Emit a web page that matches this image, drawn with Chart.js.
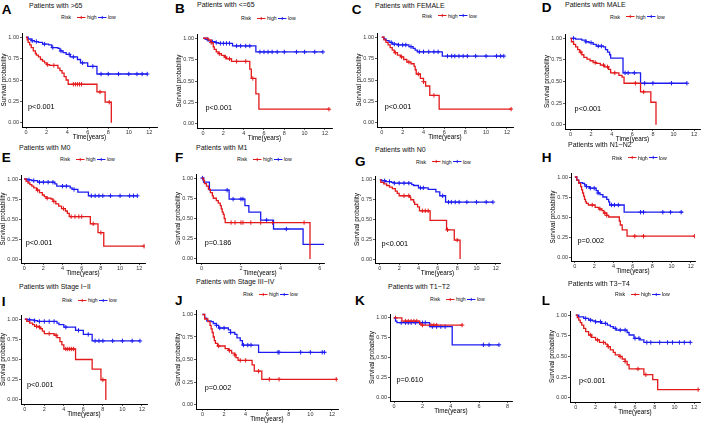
<!DOCTYPE html>
<html><head><meta charset="utf-8">
<script src="https://cdn.jsdelivr.net/npm/chart.js@4.4.1/dist/chart.umd.min.js"></script>
<style>
html,body{margin:0;padding:0;background:#fff;}
#fig{position:relative;width:708px;height:424px;overflow:hidden;font-family:"Liberation Sans",Arial,sans-serif;background:#fff;}
.lt{position:absolute;font-weight:bold;font-size:13.5px;line-height:13.5px;color:#000;}
.tt{position:absolute;font-size:7px;line-height:7px;color:#111;white-space:nowrap;}
.lg{position:absolute;display:flex;align-items:center;font-size:5.2px;line-height:6px;height:6px;color:#111;white-space:nowrap;}
canvas{position:absolute;}
</style></head><body><div id="fig"></div>
<script>
// ---------- data (time in years, survival probability, censor times) ----------
const A_high_t = [0,0.1,0.2,0.35,0.5,0.7,0.9,1.0,1.2,1.4,1.6,1.8,2.0,2.3,3.1,3.3,3.5,3.7,3.9,4.1,6.9,7.7,8.3];
const A_high_s = [1,0.97,0.94,0.91,0.88,0.84,0.81,0.79,0.77,0.74,0.72,0.70,0.68,0.67,0.64,0.61,0.58,0.54,0.50,0.45,0.36,0.24,0];
const A_high_c = [2.1,2.7,4.6,4.8,5.0,5.2,5.4,7.2,8.1];
const A_low_t = [0,0.2,0.5,0.8,1.2,1.6,2.2,2.5,3.1,3.3,3.6,3.9,4.3,5.0,5.3,6.0,6.9,11.8];
const A_low_s = [1,0.98,0.96,0.95,0.94,0.92,0.91,0.88,0.87,0.84,0.82,0.80,0.77,0.74,0.70,0.66,0.57,0.57];
const A_low_c = [0.6,1.0,1.8,2.6,3.4,4.2,4.6,5.5,6.5,7.3,8.0,9.0,10.0,10.8,11.3,11.8];

const B_high_t = [0,0.5,0.8,1.0,1.1,1.3,1.5,1.8,2.1,2.3,2.8,4.6,4.75,5.2,5.5,12.4];
const B_high_s = [1,0.98,0.95,0.90,0.87,0.84,0.82,0.80,0.78,0.76,0.73,0.64,0.53,0.35,0.17,0.17];
const B_high_c = [0.8,1.6,2.2,2.6,3.3,4.2,4.9,12.4];
const B_low_t = [0,0.2,0.5,0.9,1.2,1.5,2.9,5.2,11.8];
const B_low_s = [1,0.99,0.97,0.96,0.95,0.94,0.91,0.84,0.84];
const B_low_c = [0.4,0.9,1.3,1.7,2.0,2.3,2.6,3.3,3.7,4.2,4.6,5.6,6.0,6.4,6.8,7.3,8.0,9.2,10.0,11.0,11.8];

const C_high_t = [0,0.2,0.4,0.6,0.8,1.0,1.2,1.5,1.8,2.1,2.4,2.8,3.1,3.2,3.3,3.7,4.0,4.2,4.6,5.5,12.4];
const C_high_s = [1,0.97,0.94,0.91,0.88,0.85,0.82,0.79,0.77,0.74,0.71,0.69,0.66,0.62,0.57,0.52,0.48,0.43,0.32,0.16,0.16];
const C_high_c = [1.3,1.9,2.6,3.5,4.0,5.0,12.4];
const C_low_t = [0,0.2,0.4,0.7,1.0,1.5,2.6,3.0,3.2,3.4,5.8,11.7];
const C_low_s = [1,0.98,0.96,0.94,0.92,0.91,0.89,0.87,0.85,0.83,0.78,0.78];
const C_low_c = [0.9,1.2,1.6,2.0,2.3,2.8,3.6,4.0,4.5,5.0,5.4,6.3,6.7,7.0,7.4,7.8,8.2,9.0,10.0,11.0,11.4,11.7];

const D_high_t = [0,0.1,0.3,0.5,0.7,0.9,1.1,1.3,1.6,1.9,2.2,2.5,2.9,3.3,3.7,3.9,4.7,5.0,5.2,6.8,7.8,8.3];
const D_high_s = [1,0.96,0.93,0.90,0.87,0.84,0.81,0.78,0.76,0.74,0.72,0.71,0.69,0.67,0.64,0.60,0.57,0.55,0.48,0.38,0.26,0];
const D_high_c = [1.0,2.4,3.2,3.6,4.3,6.3,7.1];
const D_low_t = [0,0.5,1.1,1.5,1.8,2.2,2.5,3.2,3.4,3.6,3.8,3.9,5.1,6.8,11.3];
const D_low_s = [1,0.99,0.98,0.96,0.95,0.93,0.91,0.90,0.87,0.84,0.81,0.77,0.60,0.48,0.48];
const D_low_c = [0.3,1.5,2.0,2.7,3.0,5.3,5.6,6.2,7.2,8.0,9.8,11.3];

const E_high_t = [0,0.2,0.4,0.6,0.8,1.0,1.3,1.6,1.9,2.1,2.3,2.8,3.0,3.3,3.6,3.9,4.3,4.5,4.7,6.9,7.7,8.3,12.5];
const E_high_s = [1,0.97,0.95,0.93,0.91,0.89,0.86,0.83,0.80,0.78,0.76,0.75,0.72,0.69,0.66,0.63,0.60,0.57,0.53,0.44,0.33,0.16,0.16];
const E_high_c = [1.4,2.4,3.1,4.1,4.9,5.3,5.7,6.0,7.2,8.0,12.5];
const E_low_t = [0,0.3,0.8,1.4,3.2,3.4,4.8,5.0,5.6,6.7,11.8];
const E_low_s = [1,0.99,0.98,0.96,0.94,0.91,0.89,0.87,0.835,0.79,0.79];
const E_low_c = [0.5,1.0,1.6,2.0,2.5,3.0,4.0,4.4,5.2,7.0,7.4,7.8,8.2,9.0,10.0,11.0,11.4,11.8];

const F_high_t = [0,0.1,0.15,0.25,0.35,0.45,0.55,0.6,0.75,0.85,0.95,1.0,1.05,1.1,1.15,1.2,5.5];
const F_high_s = [1,0.97,0.93,0.90,0.86,0.82,0.78,0.75,0.72,0.69,0.66,0.62,0.58,0.55,0.50,0.45,0];
const F_high_c = [1.5,1.7,2.0,2.1,2.5,3.0,3.6,5.2];
const F_low_t = [0,0.1,0.4,1.4,2.2,2.4,3.0,3.65,5.15,6.3];
const F_low_s = [1,0.95,0.85,0.74,0.66,0.58,0.48,0.37,0.18,0.18];
const F_low_c = [0.05,1.3,1.6,2.0,2.1,3.3,4.3];

const G_high_t = [0,0.1,0.4,0.7,1.0,1.3,1.6,1.8,2.0,3.1,3.2,3.5,3.6,3.9,4.1,5.2,6.9,7.7,8.3];
const G_high_s = [1,0.97,0.95,0.93,0.91,0.89,0.86,0.83,0.80,0.78,0.75,0.72,0.69,0.66,0.61,0.49,0.37,0.24,0];
const G_high_c = [2.5,3.0,4.4,4.7,5.0,7.0,8.0];
const G_low_t = [0,0.2,0.6,1.2,1.5,3.3,3.5,4.0,5.0,5.8,6.2,6.8,11.7];
const G_low_s = [1,0.99,0.98,0.97,0.96,0.94,0.93,0.90,0.88,0.85,0.80,0.72,0.72];
const G_low_c = [0.5,1.0,1.5,2.0,2.5,3.0,4.2,4.5,6.5,7.1,7.4,7.8,8.2,9.0,10.0,11.0,11.7];

const H_high_t = [0,0.2,0.4,0.6,0.7,0.8,0.9,1.0,1.1,1.2,1.4,2.1,2.5,2.8,3.0,3.3,3.5,4.6,4.7,4.9,5.4,12.4];
const H_high_s = [1,0.96,0.92,0.88,0.84,0.80,0.76,0.72,0.69,0.67,0.65,0.62,0.60,0.58,0.55,0.52,0.50,0.45,0.40,0.34,0.26,0.26];
const H_high_c = [1.8,2.6,3.1,3.3,6.2,7.1,12.4];
const H_low_t = [0,0.2,0.4,0.8,1.0,1.2,1.5,2.2,2.4,2.6,2.9,3.3,3.5,3.6,5.1,11.2];
const H_low_s = [1,0.96,0.93,0.92,0.90,0.88,0.86,0.83,0.80,0.78,0.75,0.72,0.69,0.65,0.56,0.56];
const H_low_c = [1.2,1.6,2.0,2.4,3.8,4.1,4.5,6.8,7.1,9.1,9.9,11.0];

const I_high_t = [0,0.2,0.5,0.8,1.0,1.4,1.6,1.8,2.0,3.0,3.3,3.6,3.8,4.0,5.2,6.9,7.8,8.3];
const I_high_s = [1,0.97,0.95,0.93,0.91,0.90,0.88,0.85,0.82,0.80,0.77,0.72,0.68,0.63,0.50,0.38,0.25,0];
const I_high_c = [1.2,1.5,2.5,3.2,4.2,4.4,4.6,4.8,5.0,8.0];
const I_low_t = [0,0.3,1.0,1.3,3.3,3.5,4.0,5.2,6.0,6.9,11.8];
const I_low_s = [1,0.99,0.98,0.97,0.95,0.93,0.90,0.86,0.81,0.73,0.73];
const I_low_c = [0.5,1.0,1.5,2.0,2.5,3.0,4.2,5.5,6.5,7.2,7.6,8.0,9.0,10.0,11.0,11.8];

const J_high_t = [0,0.2,0.5,0.7,0.8,0.9,1.0,1.1,1.2,1.4,2.1,2.4,2.7,3.0,3.1,3.3,4.6,4.8,5.5,12.4];
const J_high_s = [1,0.95,0.92,0.88,0.84,0.80,0.75,0.71,0.68,0.65,0.62,0.60,0.57,0.55,0.52,0.49,0.44,0.37,0.28,0.28];
const J_high_c = [1.5,2.5,3.0,3.5,4.0,5.2,6.2,7.1,12.4];
const J_low_t = [0,0.2,0.4,0.8,1.0,1.3,1.5,2.4,2.6,3.0,3.2,3.5,3.7,5.2,11.4];
const J_low_s = [1,0.96,0.93,0.92,0.90,0.88,0.85,0.83,0.80,0.78,0.74,0.71,0.66,0.58,0.58];
const J_low_c = [1.3,1.6,2.0,2.6,3.8,4.2,4.5,7.0,7.1,9.1,10.0,11.1,11.3];

const K_high_t = [0,0.55,1.8,1.9,4.8];
const K_high_s = [1,0.96,0.93,0.91,0.91];
const K_high_c = [0.1,0.8,1.0,1.2,1.4,1.6,2.0,2.6,2.8,3.0,4.8];
const K_low_t = [0,0.1,0.2,2.5,4.1,7.4];
const K_low_s = [1,0.96,0.94,0.89,0.66,0.66];
const K_low_c = [0.5,0.8,1.0,1.2,1.5,1.8,2.0,2.2,2.7,3.0,3.3,3.6,6.3,6.7,7.4];

const L_high_t = [0,0.15,0.3,0.45,0.6,0.8,1.0,1.3,1.6,2.0,2.4,3.0,3.2,3.5,3.8,4.0,4.4,4.7,5.0,5.2,5.4,6.9,7.8,8.3,12.4];
const L_high_s = [1,0.97,0.94,0.91,0.88,0.84,0.80,0.76,0.73,0.70,0.67,0.65,0.62,0.58,0.55,0.52,0.50,0.47,0.44,0.40,0.35,0.28,0.22,0.10,0.10];
const L_high_c = [1.5,2.2,2.8,3.3,4.5,5.0,6.3,7.1,12.4];
const L_low_t = [0,0.3,0.8,1.3,1.7,2.0,2.6,3.2,3.5,3.8,4.1,5.2,5.4,5.9,6.5,6.9,11.7];
const L_low_s = [1,0.98,0.96,0.94,0.93,0.92,0.90,0.88,0.86,0.84,0.82,0.79,0.76,0.72,0.70,0.67,0.67];
const L_low_c = [1.0,1.5,2.0,2.5,3.0,4.0,4.5,5.0,6.0,6.4,7.2,7.6,8.5,9.3,9.8,10.5,11.0,11.6];

const X_TICKS_12 = [0,2,4,6,8,10,12];
const X_TICKS_6 = [0,2,4,6];
const X_TICKS_8 = [0,2,4,6,8];
const Y_TICKS = [0,0.25,0.5,0.75,1];
const TITLES = {A:'Patients with >65',B:'Patients with <=65',C:'Patients with FEMALE',D:'Patients with MALE',
  E:'Patients with M0',F:'Patients with M1',G:'Patients with N0',H:'Patients with N1~N2',
  I:'Patients with Stage I~II',J:'Patients with Stage III~IV',K:'Patients with T1~T2',L:'Patients with T3~T4'};
const PVALUES = {A:'p<0.001',B:'p<0.001',C:'p<0.001',D:'p<0.001',E:'p<0.001',F:'p=0.186',
  G:'p<0.001',H:'p=0.002',I:'p<0.001',J:'p=0.002',K:'p=0.610',L:'p<0.001'};

const SERIES = {
  A:[A_high_t,A_high_s,A_high_c,A_low_t,A_low_s,A_low_c],
  B:[B_high_t,B_high_s,B_high_c,B_low_t,B_low_s,B_low_c],
  C:[C_high_t,C_high_s,C_high_c,C_low_t,C_low_s,C_low_c],
  D:[D_high_t,D_high_s,D_high_c,D_low_t,D_low_s,D_low_c],
  E:[E_high_t,E_high_s,E_high_c,E_low_t,E_low_s,E_low_c],
  F:[F_high_t,F_high_s,F_high_c,F_low_t,F_low_s,F_low_c],
  G:[G_high_t,G_high_s,G_high_c,G_low_t,G_low_s,G_low_c],
  H:[H_high_t,H_high_s,H_high_c,H_low_t,H_low_s,H_low_c],
  I:[I_high_t,I_high_s,I_high_c,I_low_t,I_low_s,I_low_c],
  J:[J_high_t,J_high_s,J_high_c,J_low_t,J_low_s,J_low_c],
  K:[K_high_t,K_high_s,K_high_c,K_low_t,K_low_s,K_low_c],
  L:[L_high_t,L_high_s,L_high_c,L_low_t,L_low_s,L_low_c]
};

// ---------- layout (pixels) ----------
const LAYOUT = {
  A:{L:22,R:162,T:28,B:127,xmin:-0.40,xmax:12.75,xt:X_TICKS_12,px:0.19,py:0.18,let:[1.7,2.6],tit:[29,1.5],leg:[61,17.3]},
  B:{L:197,R:337,T:29,B:128,xmin:-0.60,xmax:12.70,xt:X_TICKS_12,px:0.23,py:0.18,let:[175,1.9],tit:[197,1.3],leg:[241,18.3]},
  C:{L:377,R:518,T:28,B:127,xmin:-0.46,xmax:12.58,xt:X_TICKS_12,px:0.28,py:0.185,let:[351.7,2.6],tit:[375,2.3],leg:[422,15.7]},
  D:{L:565,R:705,T:29,B:129,xmin:-0.53,xmax:12.57,xt:X_TICKS_12,px:0.40,py:0.18,let:[541.7,1.3],tit:[565,1.3],leg:[610,16.7]},
  E:{L:21,R:150,T:170,B:263,xmin:-0.33,xmax:12.6,xt:X_TICKS_12,px:0.17,py:0.196,let:[1.7,151.3],tit:[19,144],leg:[60,159.3]},
  F:{L:196,R:329,T:169,B:263,xmin:-0.28,xmax:6.21,xt:X_TICKS_6,px:0.16,py:0.195,let:[175,151.3],tit:[196,144],leg:[237,159]},
  G:{L:375,R:505,T:171,B:263,xmin:-0.50,xmax:12.43,xt:X_TICKS_12,px:0.17,py:0.194,let:[355,154.6],tit:[375,146.3],leg:[416,161.7]},
  H:{L:571,R:700,T:168,B:261,xmin:-0.40,xmax:12.43,xt:X_TICKS_12,px:0.27,py:0.198,let:[541.7,151.3],tit:[568,141.3],leg:[612,157.7]},
  I:{L:21,R:152,T:310,B:404,xmin:-0.39,xmax:12.52,xt:X_TICKS_12,px:0.23,py:0.19,let:[1.7,294.6],tit:[19,283.3],leg:[62,300]},
  J:{L:196,R:343,T:305,B:409,xmin:-0.60,xmax:12.56,xt:X_TICKS_12,px:0.20,py:0.184,let:[175,293.6],tit:[196,277.5],leg:[243,294]},
  K:{L:390,R:517,T:309,B:401,xmin:-0.29,xmax:8.32,xt:X_TICKS_8,px:0.16,py:0.21,let:[355,293.6],tit:[388,283.3],leg:[430,299]},
  L:{L:570,R:705,T:306,B:402,xmin:-0.59,xmax:12.59,xt:X_TICKS_12,px:0.32,py:0.206,let:[541.7,293.6],tit:[568,280],leg:[615,294.3]}
};

const RED = '#e31a1c', BLUE = '#1c1cf0';
const FONT = '"Liberation Sans", Arial, sans-serif';
const XH = 14, YW = 22;
Chart.defaults.font.family = FONT;

function pts(t, s){ return t.map((v,i)=>({x:v, y:s[i]})); }
function survAt(t, s, x){ let v = s[0]; for (let i=0;i<t.length;i++){ if (t[i] <= x) v = s[i]; } return v; }
function cens(t, s, c){ return c.map(v=>({x:v, y:survAt(t,s,v)})); }

const pvalPlugin = {
  id:'pval',
  afterDatasetsDraw(chart, args, o){
    const {ctx, scales:{x, y}} = chart;
    ctx.save();
    ctx.font = '7.3px ' + FONT;
    ctx.fillStyle = '#000';
    ctx.textAlign = 'left';
    ctx.textBaseline = 'middle';
    ctx.fillText(o.text, x.getPixelForValue(o.x), y.getPixelForValue(o.y));
    ctx.restore();
  }
};

const fig = document.getElementById('fig');
function keySvg(color){
  return '<svg width="8.5" height="5" style="display:block"><line x1="0" y1="2.5" x2="8.5" y2="2.5" stroke="'+color+'" stroke-width="1"/>'+
    '<path d="M4.25 0.9V4.1M2.65 2.5H5.85" stroke="'+color+'" stroke-width="0.9"/></svg>';
}

Object.keys(LAYOUT).forEach(k=>{
  const p = LAYOUT[k];
  const [ht, hs, hc, lt, ls, lc] = SERIES[k];
  const le = document.createElement('div'); le.className='lt'; le.textContent=k;
  le.style.left=p.let[0]+'px'; le.style.top=p.let[1]+'px'; fig.appendChild(le);
  const te = document.createElement('div'); te.className='tt'; te.textContent=TITLES[k];
  te.style.left=p.tit[0]+'px'; te.style.top=p.tit[1]+'px'; fig.appendChild(te);
  const lg = document.createElement('div'); lg.className='lg';
  lg.style.left=p.leg[0]+'px'; lg.style.top=(p.leg[1]-3)+'px';
  lg.innerHTML = '<span>Risk</span><span style="width:6px"></span>'+keySvg(RED)+'<span style="width:1.3px"></span><span>high</span><span style="width:1.7px"></span>'+keySvg(BLUE)+'<span style="width:1px"></span><span>low</span>';
  fig.appendChild(lg);
  const cv = document.createElement('canvas');
  const left = p.L - YW, top = p.T, w = p.R - p.L + YW, h = p.B - p.T + XH;
  cv.width = w; cv.height = h;
  cv.style.left = left+'px'; cv.style.top = top+'px'; cv.style.width = w+'px'; cv.style.height = h+'px';
  fig.appendChild(cv);
  new Chart(cv, {
    type:'line',
    data:{datasets:[
      {label:'high', data:pts(ht,hs), borderColor:RED, borderWidth:1.3, stepped:true, pointRadius:0, fill:false},
      {label:'low', data:pts(lt,ls), borderColor:BLUE, borderWidth:1.3, stepped:true, pointRadius:0, fill:false},
      {label:'high censored', data:cens(ht,hs,hc), showLine:false, pointStyle:'cross', pointRadius:2.2, pointBorderWidth:1, borderColor:RED, backgroundColor:RED},
      {label:'low censored', data:cens(lt,ls,lc), showLine:false, pointStyle:'cross', pointRadius:2.2, pointBorderWidth:1, borderColor:BLUE, backgroundColor:BLUE}
    ]},
    options:{
      responsive:false, animation:false, devicePixelRatio:1,
      layout:{padding:0},
      events:[],
      plugins:{legend:{display:false}, tooltip:{enabled:false}, pval:{text:PVALUES[k], x:p.px, y:p.py}},
      scales:{
        x:{type:'linear', min:p.xmin, max:p.xmax,
          afterBuildTicks:s=>{ s.ticks = p.xt.map(v=>({value:v})); },
          afterFit:s=>{ s.height = XH; },
          ticks:{autoSkip:false, maxRotation:0, minRotation:0, padding:0, color:'#333', font:{size:5.5}, callback:v=>String(v)},
          grid:{drawOnChartArea:false, drawTicks:true, tickLength:2, color:'#333', lineWidth:0.8},
          border:{display:true, color:'#000', width:1},
          title:{display:true, text:'Time(years)', color:'#000', font:{size:6.3}, padding:0}
        },
        y:{type:'linear', min:-0.05, max:1.05,
          afterBuildTicks:s=>{ s.ticks = Y_TICKS.map(v=>({value:v})); },
          afterFit:s=>{ s.width = YW; },
          ticks:{autoSkip:false, padding:1, color:'#333', font:{size:5.5}, callback:v=>Number(v).toFixed(2)},
          grid:{drawOnChartArea:false, drawTicks:true, tickLength:2, color:'#333', lineWidth:0.8},
          border:{display:true, color:'#000', width:1},
          title:{display:true, text:'Survival probability', color:'#000', font:{size:6.3}, padding:0}
        }
      }
    },
    plugins:[pvalPlugin]
  });
});
</script></body></html>
